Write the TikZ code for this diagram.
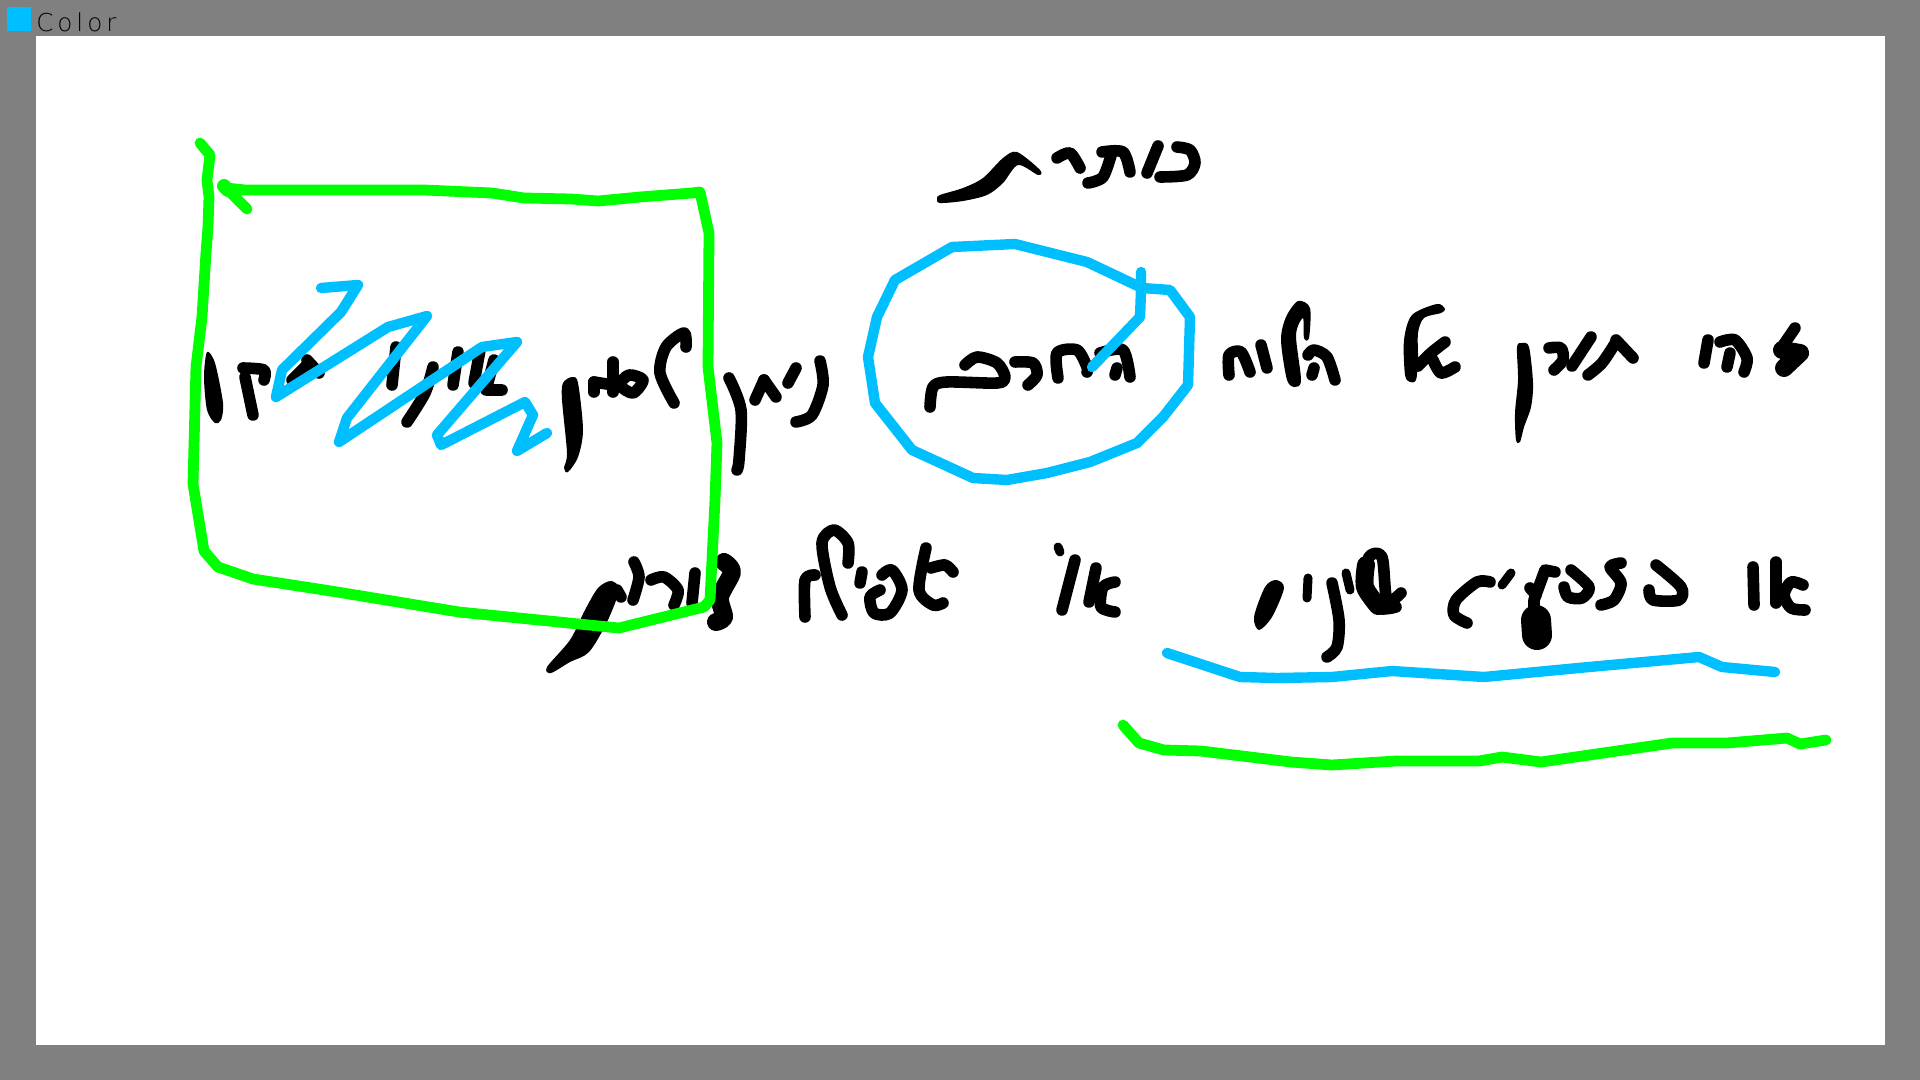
\documentclass[tikz,border=0pt]{standalone}
\usepackage{fontspec}
\newfontfamily\labelfont[LetterSpace=16,UprightFont=* ExtraLight]{DejaVu Sans}
\definecolor{penblue}{HTML}{00BFFF}
\definecolor{pengreen}{HTML}{00FF00}
\definecolor{framegray}{HTML}{808080}
\tikzset{
  ink/.style={black,line width=5.8pt,line cap=round,line join=round},
  inkthin/.style={black,line width=4.5pt,line cap=round,line join=round},
  inkfat/.style={black,line width=9pt,line cap=round,line join=round},
  bluepen/.style={penblue,line width=5.2pt,line cap=round,line join=round},
  greenpen/.style={pengreen,line width=5.4pt,line cap=round,line join=round}
}
\begin{document}
\begin{tikzpicture}[x=0.5pt,y=-0.5pt]
  \useasboundingbox (0,0) rectangle (1920,1080);
  \fill[framegray] (0,0) rectangle (1920,1080);
  \fill[white] (36,36) rectangle (1885,1045);
  \fill[penblue] (7,7) rectangle (31,31);
  \node[anchor=base west,inner sep=0pt,font=\labelfont\fontsize{12.3}{14}\selectfont] (colorlabel) at (36,32) {Color};
  % title
  \draw[ink] plot[smooth] coordinates {(1160,177) (1187,175) (1195,163) (1190,150) (1177,147)};
  \draw[ink] (1158,146) -- (1147,173);
  \draw[ink] plot[smooth] coordinates {(1102,152) (1123,152) (1130,172)};
  \draw[ink] plot[smooth] coordinates {(1112,152) (1103,177) (1088,183)};
  \draw[ink] plot[smooth] coordinates {(1057,158) (1070,153) (1080,168)};
  \fill[black] plot[smooth cycle] coordinates {(937,199) (940,195) (963,188) (983,178) (1003,158) (1017,152) (1040,170) (1038,175) (1018,165) (1003,183) (987,195) (963,201) (940,203)};
  % circled word
  \draw[ink] plot[smooth] coordinates {(1100,353) (1123,350) (1130,377)};
  \draw[ink] (1117,368) -- (1115,375);
  \draw[ink] plot[smooth] coordinates {(1058,378) (1057,353) (1077,350) (1087,367) (1087,372)};
  \draw[ink] plot[smooth] coordinates {(1015,362) (1033,363) (1037,375) (1028,385)};
  \draw[ink] plot[smooth] coordinates {(965,365) (977,357) (997,363) (1005,377) (997,383) (947,382) (933,387) (930,407)};
  % first line, right part
  \draw[ink] (1795,328) -- (1780,350);
  \draw[inkfat] (1782,350) -- (1800,353) -- (1784,368);
  \draw[ink] plot[smooth] coordinates {(1720,342) (1735,340) (1747,358) (1744,372)};
  \draw[ink] (1730,353) -- (1727,367);
  \draw[ink] (1708,340) -- (1704,363);
  \draw[ink] (1616,340) -- (1633,358);
  \draw[ink] plot[smooth] coordinates {(1616,342) (1602,363) (1588,375)};
  \draw[ink] (1591,337) -- (1572,366);
  \draw[ink] plot[smooth] coordinates {(1549,348) (1561,348) (1563,360) (1554,370)};
  \fill[black] plot[smooth cycle] coordinates {(1522,343) (1529,347) (1533,383) (1531,407) (1524,427) (1520,442) (1516,440) (1515,413) (1518,380) (1517,347)};
  \fill[black] plot[smooth cycle] coordinates {(1437,304) (1445,309) (1441,313) (1424,318) (1418,333) (1418,360) (1416,380) (1410,382) (1405,375) (1404,340) (1412,315)};
  \draw[ink] plot[smooth] coordinates {(1445,342) (1431,353) (1418,366)};
  \draw[ink] plot[smooth] coordinates {(1433,360) (1441,373) (1455,367)};
  \draw[ink] plot[smooth] coordinates {(1335,380) (1327,357) (1314,350) (1308,355)};
  \draw[ink] (1314,368) -- (1312,375);
  \fill[black] plot[smooth cycle] coordinates {(1298,301) (1310,308) (1309,338) (1304,338) (1303,318) (1296,335) (1301,380) (1295,387) (1287,380) (1281,340) (1286,317)};
  \draw[ink] (1261,345) -- (1267,368);
  \draw[ink] plot[smooth] coordinates {(1229,375) (1229,355) (1241,352) (1250,372)};
  % first line, left part
  \fill[black] plot[smooth cycle] coordinates {(207,352) (215,363) (223,403) (221,420) (215,423) (207,410) (204,377)};
  \draw[ink] plot[smooth] coordinates {(243,368) (264,370) (264,380)};
  \draw[ink] (245,377) -- (253,415);
  \draw[ink] (307,360) -- (319,373);
  \draw[ink] (307,365) -- (292,380);
  \draw[ink] (396,347) -- (392,385);
  \draw[ink] plot[smooth] coordinates {(433,367) (425,393) (407,422)};
  \draw[ink] (458,352) -- (453,385);
  \draw[ink] (480,350) -- (474,383);
  \draw[ink] (494,360) -- (486,390) -- (502,390);
  \fill[black] plot[smooth cycle] coordinates {(572,377) (578,383) (583,430) (578,457) (568,472) (564,468) (567,453) (562,400) (563,383)};
  \draw[ink] (594,392) -- (594,382);
  \draw[ink] (613,362) -- (613,392);
  \draw[ink] plot[smooth cycle] coordinates {(629,375) (643,380) (633,393) (620,385)};
  \draw[ink] (594,382) -- (613,385);
  \draw[ink] plot[smooth] coordinates {(686,347) (684,333) (666,347) (660,373) (674,403)};
  \draw[ink] plot[smooth] coordinates {(729,378) (741,410) (739,460) (737,470)};
  \draw[ink] (764,380) -- (755,400);
  \draw[ink] (764,380) -- (776,397);
  \draw[ink] (796,368) -- (788,383);
  \draw[ink] plot[smooth] coordinates {(820,361) (823,385) (812,415) (796,422)};
  % second line
  \fill[black] plot[smooth cycle] coordinates {(611,581) (619,590) (607,622) (589,652) (570,662) (551,673) (547,667) (570,640) (585,610) (598,588)};
  \draw[ink] (617,590) -- (621,597);
  \draw[ink] plot[smooth] coordinates {(634,562) (639,577) (633,600)};
  \draw[ink] plot[smooth] coordinates {(651,580) (664,577) (678,590) (674,605)};
  \draw[ink] (695,573) -- (692,603);
  \draw[inkfat] plot[smooth] coordinates {(724,562) (732,572) (720,597) (724,617) (716,622)};
  \draw[ink] plot[smooth] coordinates {(815,575) (805,580) (805,617)};
  \draw[ink] plot[smooth] coordinates {(848,563) (848,543) (834,530) (822,543) (830,587) (842,615)};
  \draw[ink] (862,572) -- (860,583);
  \draw[ink] plot[smooth] coordinates {(882,575) (892,570) (902,590) (890,613) (874,613) (870,597) (880,590)};
  \draw[ink] plot[smooth] coordinates {(926,548) (919,590) (933,605) (943,603)};
  \draw[ink] plot[smooth] coordinates {(931,568) (945,565) (953,572)};
  \draw[inkthin] (1058,547) -- (1060,552);
  \draw[ink] (1075,560) -- (1062,610);
  \draw[ink] (1096,568) -- (1089,602);
  \draw[ink] plot[smooth] coordinates {(1115,582) (1103,587) (1101,607) (1115,612)};
  \draw[ink] (1753,567) -- (1754,605);
  \draw[ink] (1776,562) -- (1776,603);
  \draw[ink] plot[smooth] coordinates {(1803,585) (1791,582) (1784,595) (1791,608) (1805,610)};
  \draw[ink] plot[smooth] coordinates {(1656,565) (1681,587) (1679,600) (1653,600) (1649,590)};
  \draw[ink] plot[smooth] coordinates {(1621,563) (1610,567) (1621,583) (1614,600) (1601,605)};
  \draw[ink] plot[smooth] coordinates {(1571,570) (1589,587) (1582,598) (1568,597) (1564,587)};
  \draw[ink] (1555,572) -- (1545,570) -- (1534,600) -- (1534,620);
  \draw[ink] (1530,588) -- (1536,595);
  \draw[black,line width=15pt,line cap=round] (1536,620) -- (1537,635);
  \draw[inkthin] (1511,573) -- (1502,585);
  \draw[ink] plot[smooth] coordinates {(1490,582) (1477,582) (1456,600) (1454,615) (1467,623)};
  \draw[ink] plot[smooth] coordinates {(1401,593) (1387,600) (1382,557) (1369,557) (1364,587) (1378,608) (1396,607)};
  \draw[inkfat] plot[smooth] coordinates {(1366,565) (1365,587) (1378,606)};
  \draw[inkthin] (1346,573) -- (1350,590);
  \draw[ink] plot[smooth] coordinates {(1332,583) (1339,620) (1337,647) (1327,657)};
  \draw[inkthin] (1308,578) -- (1307,598);
  \fill[black] plot[smooth cycle] coordinates {(1276,580) (1284,588) (1272,617) (1259,630) (1254,617) (1265,587)};
  % pen marks
  \draw[greenpen] (200,143) -- (210,155) -- (207,180) -- (209,197) -- (208,227) -- (206,253) -- (202,317)
      -- (196,367) -- (193,484) -- (204,551) -- (218,567) -- (253,579) -- (331,591) -- (459,612) -- (619,628)
      -- (704,607) -- (710,600) -- (715,500) -- (717,443) -- (708,367) -- (709,233) -- (700,192) -- (692,193)
      -- (640,197) -- (598,201) -- (571,199) -- (524,198) -- (492,193) -- (424,190) -- (245,190) -- (226,188) -- (247,209);
  \draw[pengreen,line width=7pt,line cap=round] (224,186) -- (228,190);
  \draw[bluepen] (321,288) -- (358,285) -- (341,312) -- (282,370) -- (276,397) -- (388,327) -- (427,316)
      -- (347,418) -- (339,442) -- (482,347) -- (517,342) -- (437,435) -- (441,445) -- (525,402) -- (533,415)
      -- (517,451) -- (547,433);
  \draw[bluepen] (1092,367) -- (1140,317) -- (1141,290) -- (1141,272);
  \draw[bluepen] (1142,288) -- (1170,290) -- (1190,317) -- (1188,385) -- (1163,417) -- (1137,443) -- (1090,462)
      -- (1047,473) -- (1007,480) -- (973,478) -- (912,450) -- (875,403) -- (868,357) -- (877,317) -- (895,280)
      -- (952,247) -- (1015,244) -- (1087,262) -- cycle;
  \draw[bluepen] (1167,653) -- (1240,677) -- (1277,678) -- (1332,677) -- (1392,671) -- (1484,677) -- (1589,667)
      -- (1699,657) -- (1722,667) -- (1775,672);
  \draw[greenpen] (1123,725) -- (1139,743) -- (1164,750) -- (1201,751) -- (1291,762) -- (1332,765) -- (1396,761)
      -- (1479,761) -- (1502,757) -- (1541,762) -- (1672,743) -- (1727,743) -- (1787,738) -- (1800,744) -- (1826,740);
\end{tikzpicture}
\end{document}
